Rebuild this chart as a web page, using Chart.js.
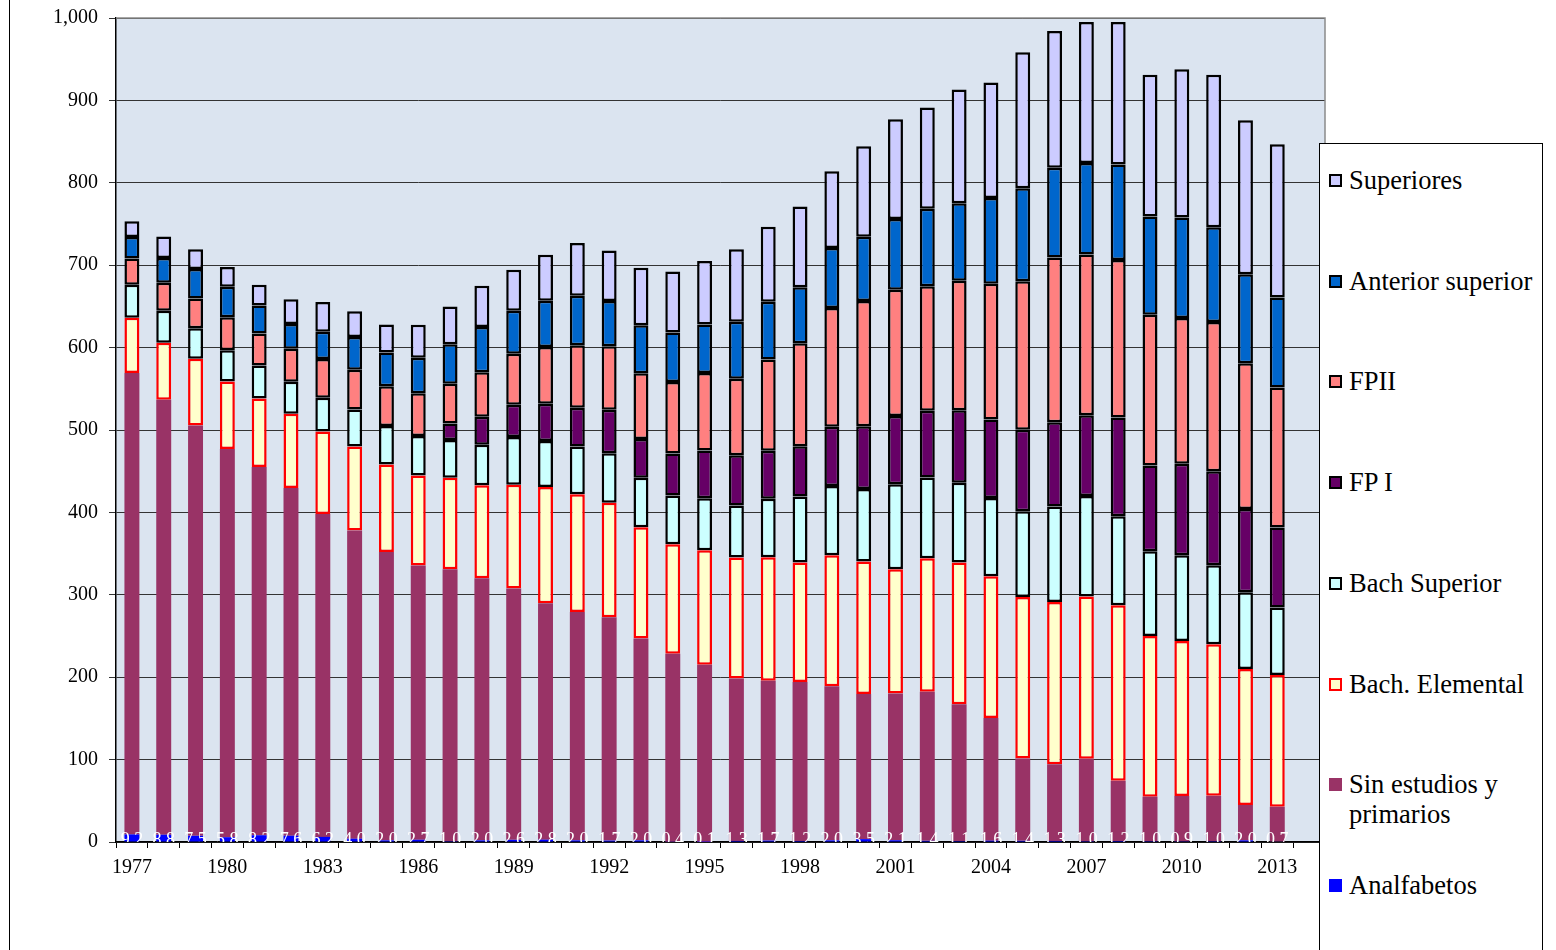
<!DOCTYPE html>
<html><head><meta charset="utf-8">
<script src="https://cdn.jsdelivr.net/npm/chart.js@4/dist/chart.umd.min.js"></script>
<style>
html,body{margin:0;padding:0;background:#fff;width:1556px;height:950px;overflow:hidden;}
#c{position:absolute;left:0;top:0;}
#leftline{position:absolute;left:9px;top:0;width:1px;height:950px;background:#000;}
#legend{position:absolute;left:1319px;top:143px;width:222px;height:830px;border:1px solid #000;background:#fff;font-family:"Liberation Serif","Times New Roman",serif;font-size:26.5px;color:#000;}
.sw{position:absolute;width:13px;height:13px;box-sizing:border-box;}
.tx{position:absolute;line-height:30px;white-space:nowrap;}
</style></head>
<body>
<div id="leftline"></div>
<canvas id="c" width="1556" height="950"></canvas>
<div id="legend"></div>
<script>
const years = ['1977','1978','1979','1980','1981','1982','1983','1984','1985','1986','1987','1988','1989','1990','1991','1992','1993','1994','1995','1996','1997','1998','1999','2000','2001','2002','2003','2004','2005','2006','2007','2008','2009','2010','2011','2012','2013',''];

const analfabetos = [9.2,8.8,7.5,5.8,8.2,7.6,6.2,4.0,2.0,2.7,1.0,2.0,2.6,2.8,2.0,1.7,2.0,0.4,0.1,1.3,1.7,1.2,2.0,3.5,2.1,1.4,1.1,1.6,1.4,1.3,1.0,1.2,1.0,0.9,1.0,2.0,0.7];
const sinEstudios = [560,528,498,471,447,422,392,374,350,333,330,318,305,287,277,271,245,228,215,197,194,193,187,176,178,181,166,149,100,93,100,73,54,55,55,43,42];
const bachElemental = [67,69,81,82,83,90,100,102,106,109,111,113,126,141,143,139,135,133,139,147,150,145,159,161,151,162,172,172,196,197,197,213,195,188,184,165,160];
const bachSuperior = [40,39,37,38,40,39,41,45,47,48,46,49,58,56,58,60,60,59,63,63,71,80,84,88,103,98,97,95,104,116,122,108,103,104,96,93,82];
const fpI = [null,null,null,null,null,null,null,null,null,null,20,34,39,45,47,53,47,51,58,61,58,61,72,76,83,81,88,95,99,102,98,120,104,111,114,101,97];
const fpII = [32,34,36,40,39,40,47,48,48,52,48,54,62,69,76,77,80,87,94,93,111,125,144,152,153,151,157,165,180,200,195,191,183,177,181,177,170];
const anteriorSuperior = [26,30,36,37,34,30,33,40,41,43,48,55,52,56,60,55,58,60,59,69,70,68,73,78,86,94,94,104,113,109,111,116,119,122,115,108,109];
const superiores = [19,26,24,24,25,30,36,31,34,40,46,50,50,56,64,61,70,74,77,88,91,98,93,110,121,123,138,140,165,166,171,173,172,180,185,187,186];

const serif = '"Liberation Serif","Times New Roman",serif';
const BW = 2.5;

const datasets = [
  {label:'Analfabetos', data:analfabetos, backgroundColor:'#0000FF', borderWidth:0},
  {label:'Sin estudios y primarios', data:sinEstudios, backgroundColor:'#993366', borderWidth:0},
  {label:'Bach. Elemental', data:bachElemental, backgroundColor:'#FFFFCC', borderColor:'#FF0000', borderWidth:2.5},
  {label:'Bach Superior', data:bachSuperior, backgroundColor:'#CCFFFF', borderColor:'#000', borderWidth:BW},
  {label:'FP I', data:fpI, backgroundColor:'#660066', borderColor:'#000', borderWidth:BW},
  {label:'FPII', data:fpII, backgroundColor:'#FF8080', borderColor:'#000', borderWidth:BW},
  {label:'Anterior superior', data:anteriorSuperior, backgroundColor:'#0066CC', borderColor:'#000', borderWidth:BW},
  {label:'Superiores', data:superiores, backgroundColor:'#CCCCFF', borderColor:'#000', borderWidth:BW}
];
datasets.forEach(d=>{d.borderSkipped=false; d.barPercentage=0.47; d.categoryPercentage=1.0;});

const plotBg = {
  id:'plotBg',
  beforeDraw(chart){
    const {ctx, chartArea:a} = chart;
    ctx.save(); ctx.fillStyle='#DBE4F0'; ctx.fillRect(a.left,a.top,a.right-a.left,a.bottom-a.top); ctx.restore();
  },
  afterDraw(chart){
    const {ctx, chartArea:a} = chart;
    ctx.save(); ctx.strokeStyle='#8a8a8a'; ctx.lineWidth=1.5;
    ctx.beginPath(); ctx.moveTo(a.left,a.top); ctx.lineTo(a.right,a.top); ctx.lineTo(a.right,a.bottom); ctx.stroke();
    ctx.restore();
  }
};
const analfLabels = {
  id:'analfLabels',
  afterDatasetsDraw(chart){
    const {ctx, chartArea:a} = chart;
    const meta = chart.getDatasetMeta(0);
    ctx.save();
    ctx.beginPath(); ctx.rect(a.left,a.top,a.right-a.left,a.bottom-a.top); ctx.clip();
    ctx.fillStyle='#fff'; ctx.font='18px '+serif; ctx.textAlign='center'; ctx.textBaseline='middle';
    meta.data.forEach((bar,i)=>{
      const v = analfabetos[i]; if(v==null) return;
      ctx.fillText(v.toFixed(1), bar.x, a.bottom-2);
    });
    ctx.restore();
  }
};

const chart = new Chart(document.getElementById('c'), {
  type:'bar',
  data:{labels:years, datasets},
  options:{
    responsive:false, animation:false,
    layout:{padding:{top:18,right:231,left:0,bottom:0}},
    plugins:{legend:{display:false}, tooltip:{enabled:false}},
    scales:{
      x:{stacked:true, offset:true,
        grid:{display:true, drawOnChartArea:false, drawTicks:true, tickLength:6, color:'#000', offset:true},
        border:{display:true, color:'#000', width:1.5},
        ticks:{autoSkip:false, maxRotation:0, minRotation:0, padding:8, color:'#000', font:{family:serif, size:20},
          callback:(v,i)=> i%3===0 ? years[i] : ''},
        afterFit(s){ s.height = 108; s.paddingLeft = 0; s.paddingRight = 0; }
      },
      y:{stacked:true, min:0, max:1000,
        grid:{color:'#333', lineWidth:1, tickLength:7, drawTicks:true},
        border:{display:true, color:'#000', width:1.5},
        ticks:{stepSize:100, padding:11, color:'#000', font:{family:serif, size:20, lineHeight:1},
          callback:v=> v.toLocaleString('en-US')},
        afterFit(s){ s.width = 116; s.paddingTop = 0; s.paddingBottom = 0; }
      }
    }
  },
  plugins:[plotBg, analfLabels]
});

// HTML legend built from datasets (reverse order)
const leg = document.getElementById('legend');
const items = datasets.slice().reverse();
items.forEach((d,i)=>{
  const cy = 37 + i*100.7;
  const sw = document.createElement('div');
  sw.className='sw';
  sw.style.left='9px'; sw.style.top=(cy-7)+'px';
  sw.style.background=d.backgroundColor;
  if(d.borderWidth>0) sw.style.border='2px solid '+d.borderColor;
  leg.appendChild(sw);
  const tx = document.createElement('div');
  tx.className='tx';
  tx.style.left='29px'; tx.style.top=(cy-16)+'px';
  if(d.label==='Sin estudios y primarios'){ tx.innerHTML='Sin estudios y<br>primarios'; }
  else tx.textContent=d.label;
  leg.appendChild(tx);
});
</script>
</body></html>
